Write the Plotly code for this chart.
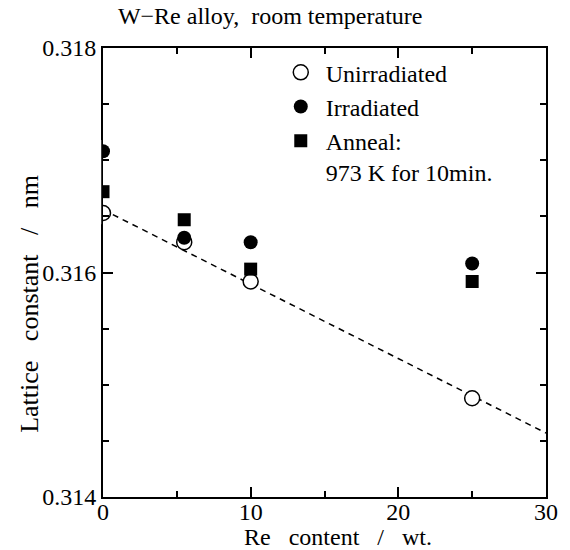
import plotly.graph_objects as go

re_content = [0, 5.5, 10, 25]
unirradiated = [0.31653, 0.31627, 0.31592, 0.31488]
irradiated = [0.31708, 0.31631, 0.31627, 0.31608]
anneal = [0.31672, 0.31647, 0.31603, 0.31592]

fit_x = [0, 30]
fit_y = [0.31656, 0.31457]

x_range = [0, 30]
y_range = [0.314, 0.318]
x_ticks = [0, 10, 20, 30]
y_ticks = [0.314, 0.316, 0.318]
y_tick_labels = ["0.314", "0.316", "0.318"]

FONT = "Liberation Serif"

fig = go.Figure()
fig.add_trace(go.Scatter(x=fit_x, y=fit_y, mode="lines",
                         line=dict(color="black", width=1.5, dash="6px,5px"),
                         showlegend=False, hoverinfo="skip"))
fig.add_trace(go.Scatter(x=re_content, y=unirradiated, mode="markers", name="Unirradiated",
                         marker=dict(symbol="circle", size=15, color="white",
                                     line=dict(color="black", width=1.5))))
fig.add_trace(go.Scatter(x=re_content, y=irradiated, mode="markers", name="Irradiated",
                         marker=dict(symbol="circle", size=14, color="black",
                                     line=dict(color="black", width=0))))
fig.add_trace(go.Scatter(x=re_content, y=anneal, mode="markers",
                         name="Anneal:<br>973 K for 10min.",
                         marker=dict(symbol="square", size=13, color="black",
                                     line=dict(color="black", width=0))))

# mask the part of the x=0 markers lying outside the frame (markers are cut by the axis)
edge_vals = [s[0] for s in (unirradiated, irradiated, anneal)]
to_paper = lambda v: (v - y_range[0]) / (y_range[1] - y_range[0])
fig.add_shape(type="rect", xref="paper", yref="paper", x0=-0.03, x1=-0.004,
              y0=to_paper(min(edge_vals) - 0.0001), y1=to_paper(max(edge_vals) + 0.0001),
              fillcolor="white", line=dict(width=0), layer="above")

axis_common = dict(showgrid=False, zeroline=False, showline=True, linecolor="black",
                   linewidth=2, mirror="ticks", ticks="inside", ticklen=10,
                   tickwidth=1.5, tickcolor="black",
                   tickfont=dict(family=FONT, size=24, color="black"))

fig.update_xaxes(range=x_range, tickvals=x_ticks, ticklabelstandoff=-8,
                 minor=dict(dtick=5, ticks="inside", ticklen=6, tickwidth=1.5, tickcolor="black"),
                 **axis_common)
fig.update_yaxes(range=y_range, tickvals=y_ticks, ticktext=y_tick_labels,
                 minor=dict(dtick=0.0005, tick0=0.314, ticks="inside", ticklen=6,
                            tickwidth=1.5, tickcolor="black"),
                 **axis_common)

fig.add_annotation(text="Re&nbsp;&nbsp; content&nbsp;&nbsp; /&nbsp;&nbsp; wt.",
                   xref="paper", yref="paper", x=0.53, y=-0.088,
                   xanchor="center", yanchor="middle", showarrow=False,
                   font=dict(family=FONT, size=24, color="black"))
fig.add_annotation(text="Lattice&nbsp;&nbsp; constant&nbsp;&nbsp; /&nbsp;&nbsp; nm",
                   xref="paper", yref="paper", x=-0.165, y=0.43, textangle=-90,
                   xanchor="center", yanchor="middle", showarrow=False,
                   font=dict(family=FONT, size=26, color="black"))

fig.update_layout(
    width=570, height=550,
    margin=dict(l=103, r=20, t=48, b=53),
    paper_bgcolor="white", plot_bgcolor="white",
    title=dict(text="W−Re alloy,&nbsp; room temperature",
               font=dict(family=FONT, size=24, color="black"),
               x=0.474, xanchor="center", y=0.972, yanchor="middle"),
    legend=dict(x=0.39, y=0.995, xanchor="left", yanchor="top",
                bgcolor="rgba(0,0,0,0)", borderwidth=0, valign="top",
                font=dict(family=FONT, size=24, color="black"),
                tracegroupgap=0, itemwidth=40),
    font=dict(family=FONT, color="black"),
)

fig.write_html("out.html")
